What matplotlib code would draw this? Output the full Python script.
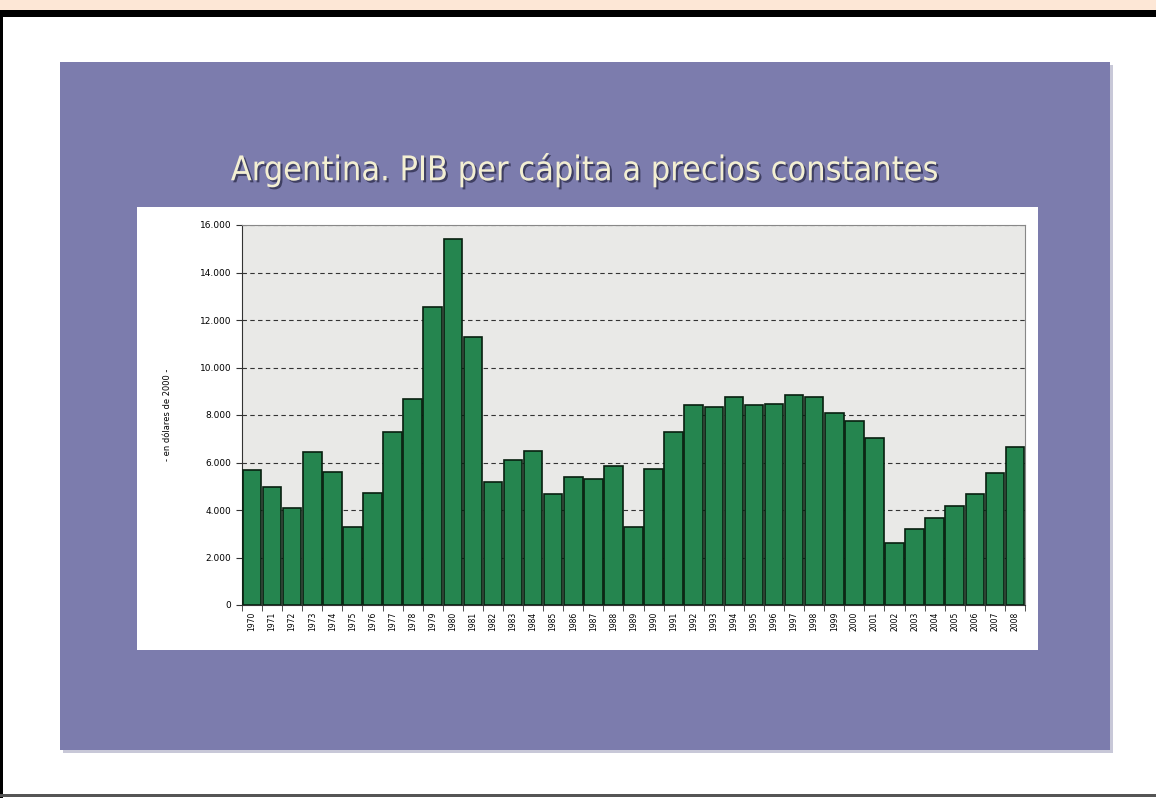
import matplotlib.pyplot as plt
import matplotlib.patheffects as pe
from matplotlib.patches import Rectangle
from matplotlib.ticker import FuncFormatter, MultipleLocator

# PIB per capita, en dolares de 2000
anios = [str(a) for a in range(1970, 2009)]
pib = [5700, 4950, 4070, 6430, 5610, 3300, 4730, 7270, 8670, 12560,
       15410, 11300, 5160, 6100, 6480, 4670, 5400, 5290, 5850, 3300,
       5710, 7300, 8420, 8320, 8740, 8420, 8460, 8840, 8770, 8070,
       7760, 7020, 2620, 3190, 3650, 4170, 4670, 5570, 6640]

W, H = 1156, 798
fig = plt.figure(figsize=(W / 100, H / 100), dpi=100)
fig.patch.set_facecolor("white")

# eje de fondo en pixeles (y desde arriba)
fondo = fig.add_axes([0, 0, 1, 1], zorder=-1)
fondo.set_xlim(0, W)
fondo.set_ylim(H, 0)
fondo.axis("off")


def caja(x0, y0, x1, y1, color):
    fondo.add_patch(Rectangle((x0, y0), x1 - x0, y1 - y0, facecolor=color, edgecolor="none"))


# marco de la pantalla
caja(0, 0, W, 10, "#fde7d6")
caja(0, 10, W, 17, "black")
caja(0, 17, 3, H, "black")
caja(0, 794, W, 797, "#555555")

# diapositiva
caja(63, 65, 1113, 753, "#c8c8d8")
caja(60, 62, 1110, 750, "#7c7cad")
caja(137, 207, 1038, 650, "white")

fondo.text(585, 170, "Argentina. PIB per cápita a precios constantes",
           ha="center", va="center", fontsize=24.5, color="#f3efd2",
           family="DejaVu Sans", stretch="condensed",
           path_effects=[pe.withSimplePatchShadow(offset=(1.5, -1.5),
                                                  shadow_rgbFace="#303050", alpha=0.8)])

ax = fig.add_axes([242 / W, 1 - 605 / H, 783 / W, 380 / H])
ax.set_facecolor("#e9e9e7")

x = range(len(anios))
ax.bar(x, pib, width=0.92, color="#25854f", edgecolor="#082010", linewidth=1.2, zorder=3)

ax.set_xlim(-0.5, len(anios) - 0.5)
ax.set_ylim(0, 16000)
ax.yaxis.set_major_locator(MultipleLocator(2000))
ax.yaxis.set_major_formatter(FuncFormatter(lambda v, p: f"{int(v):,}".replace(",", ".")))
ax.grid(axis="y", linestyle=(0, (4, 3)), color="#333333", linewidth=0.8, zorder=1)

ax.set_xticks(list(x))
ax.set_xticklabels(anios, rotation=90, fontsize=5.5)
ax.set_xticks([i - 0.5 for i in range(len(anios) + 1)], minor=True)
ax.tick_params(axis="x", which="major", length=0, pad=5)
ax.tick_params(axis="x", which="minor", length=4, color="#333333")
ax.tick_params(axis="y", labelsize=6.5, length=4, color="#333333")

for s in ["top", "right"]:
    ax.spines[s].set_color("#888888")
ax.spines["left"].set_color("#333333")
ax.spines["bottom"].set_color("#333333")

ax.set_ylabel("- en dólares de 2000 -", fontsize=6, labelpad=20)

fig.savefig("out.png", dpi=100)
